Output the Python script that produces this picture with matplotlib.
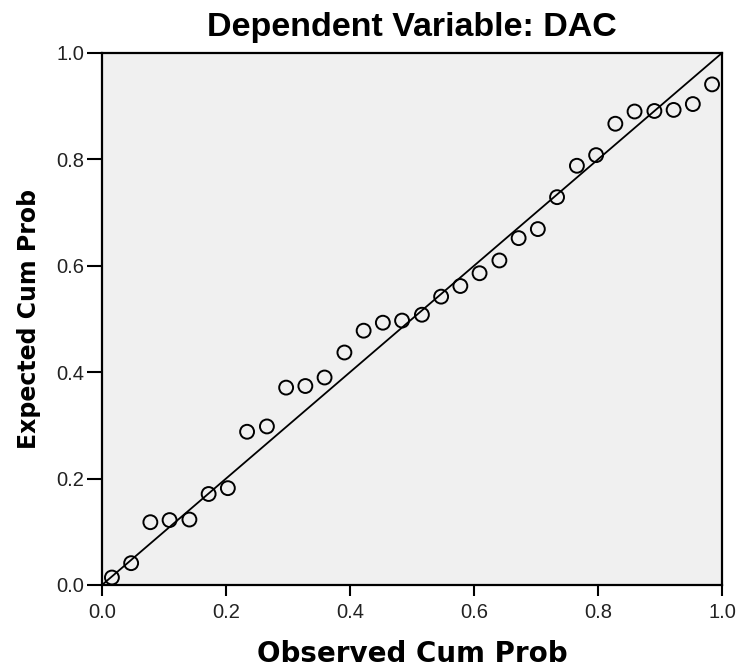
import matplotlib.pyplot as plt

# observed vs expected cumulative probabilities
observed = [0.016, 0.047, 0.078, 0.109, 0.141, 0.172, 0.203, 0.234,
            0.266, 0.297, 0.328, 0.359, 0.391, 0.422, 0.453, 0.484,
            0.516, 0.547, 0.578, 0.609, 0.641, 0.672, 0.703, 0.734,
            0.766, 0.797, 0.828, 0.859, 0.891, 0.922, 0.953, 0.984]
expected = [0.014, 0.041, 0.118, 0.122, 0.123, 0.171, 0.182, 0.288,
            0.298, 0.371, 0.374, 0.390, 0.437, 0.478, 0.493, 0.497,
            0.508, 0.542, 0.562, 0.586, 0.610, 0.652, 0.669, 0.729,
            0.788, 0.808, 0.867, 0.890, 0.891, 0.893, 0.904, 0.941]
ticks = [0.0, 0.2, 0.4, 0.6, 0.8, 1.0]
tick_labels = ["0.0", "0.2", "0.4", "0.6", "0.8", "1.0"]

plt.rcParams['font.family'] = ['Liberation Sans', 'DejaVu Sans']

fig = plt.figure(figsize=(7.44, 6.70), dpi=100)
ax = fig.add_axes([0.1371, 0.1269, 0.8333, 0.7940])
ax.set_facecolor('#f0f0f0')

ax.plot([0, 1], [0, 1], color='black', linewidth=1.3, zorder=2)
ax.scatter(observed, expected, s=100, facecolors='none', edgecolors='black',
           linewidths=1.4, zorder=3)

ax.set_xlim(0, 1)
ax.set_ylim(0, 1)
ax.set_xticks(ticks)
ax.set_xticklabels(tick_labels)
ax.set_yticks(ticks)
ax.set_yticklabels(tick_labels)
ax.tick_params(direction='out', width=1.5, labelsize=14.5,
               colors='black', labelcolor='#222222')
ax.tick_params(axis='x', length=8, pad=5)
ax.tick_params(axis='y', length=11, pad=2)

for s in ax.spines.values():
    s.set_linewidth(1.6)
    s.set_color('black')

ax.set_title("Dependent Variable: DAC", fontsize=24.5, fontweight='bold', pad=12)
ax.set_xlabel("Observed Cum Prob", fontsize=20, fontweight='bold',
              family='DejaVu Sans', labelpad=13)
ax.set_ylabel("Expected Cum Prob", fontsize=17, fontweight='bold',
              family='DejaVu Sans', labelpad=11)

plt.savefig('out.png', dpi=100)
